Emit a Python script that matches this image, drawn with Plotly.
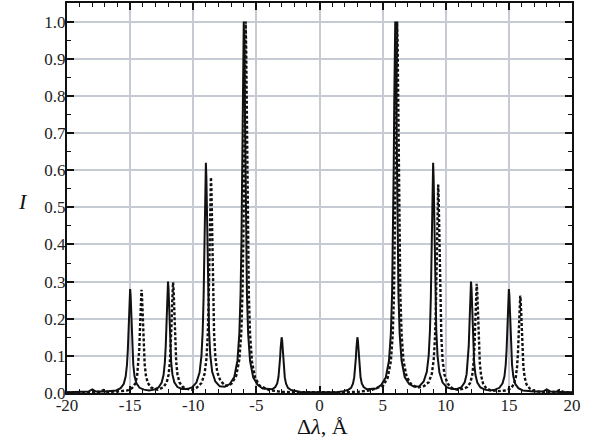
import plotly.graph_objects as go

# ---- data ----
solid_x = [-20, -19, -18.3, -18, -17.7, -17,
           -16.1, -15.75, -15.5, -15.35, -15.25, -15.18, -15.12, -15.08, -15.04, -15,
           -14.96, -14.92, -14.88, -14.82, -14.75, -14.65, -14.5, -14.25, -13.9, -13.5,
           -13.1, -12.75, -12.5, -12.35, -12.25, -12.18, -12.12, -12.08, -12.04, -12,
           -11.96, -11.92, -11.88, -11.82, -11.75, -11.65, -11.5, -11.25, -10.9, -10.5,
           -10.1, -9.75, -9.5, -9.35, -9.25, -9.18, -9.12, -9.08, -9.04, -9,
           -8.96, -8.92, -8.88, -8.82, -8.75, -8.65, -8.5, -8.25, -7.9, -7.5,
           -7.1, -6.75, -6.5, -6.35, -6.25, -6.18, -6.12, -6.08, -6.04, -6,
           -5.96, -5.92, -5.88, -5.82, -5.75, -5.65, -5.5, -5.25, -4.9, -4.5,
           -4.1, -3.75, -3.5, -3.35, -3.25, -3.18, -3.12, -3.08, -3.04, -3,
           -2.96, -2.92, -2.88, -2.82, -2.75, -2.65, -2.5, -2.25, -1.9, -1.5, -0.75, 0,
           0.75, 1.5, 1.9, 2.25, 2.5, 2.65, 2.75, 2.82, 2.88, 2.92, 2.96, 3,
           3.04, 3.08, 3.12, 3.18, 3.25, 3.35, 3.5, 3.75, 4.1, 4.5,
           4.9, 5.25, 5.5, 5.65, 5.75, 5.82, 5.88, 5.92, 5.96, 6,
           6.04, 6.08, 6.12, 6.18, 6.25, 6.35, 6.5, 6.75, 7.1, 7.5,
           7.9, 8.25, 8.5, 8.65, 8.75, 8.82, 8.88, 8.92, 8.96, 9,
           9.04, 9.08, 9.12, 9.18, 9.25, 9.35, 9.5, 9.75, 10.1, 10.5,
           10.9, 11.25, 11.5, 11.65, 11.75, 11.82, 11.88, 11.92, 11.96, 12,
           12.04, 12.08, 12.12, 12.18, 12.25, 12.35, 12.5, 12.75, 13.1, 13.5,
           13.9, 14.25, 14.5, 14.65, 14.75, 14.82, 14.88, 14.92, 14.96, 15,
           15.04, 15.08, 15.12, 15.18, 15.25, 15.35, 15.5, 15.75, 16.1,
           17, 17.7, 18, 18.3, 19, 20]
solid_y = [0.002, 0.003, 0.004, 0.010, 0.004, 0.004,
           0.007, 0.013, 0.025, 0.045, 0.076, 0.117, 0.173, 0.220, 0.262, 0.280,
           0.262, 0.220, 0.173, 0.117, 0.076, 0.045, 0.026, 0.014, 0.009, 0.0065,
           0.009, 0.015, 0.028, 0.049, 0.082, 0.126, 0.186, 0.237, 0.282, 0.300,
           0.282, 0.237, 0.186, 0.126, 0.083, 0.050, 0.029, 0.016, 0.011, 0.0105,
           0.015, 0.028, 0.055, 0.100, 0.168, 0.258, 0.382, 0.488, 0.580, 0.620,
           0.581, 0.489, 0.383, 0.259, 0.169, 0.101, 0.057, 0.031, 0.018, 0.017,
           0.024, 0.043, 0.087, 0.159, 0.269, 0.414, 0.614, 0.784, 0.934, 1.000,
           0.933, 0.783, 0.613, 0.413, 0.268, 0.158, 0.086, 0.042, 0.022, 0.012,
           0.010, 0.010, 0.016, 0.026, 0.043, 0.065, 0.095, 0.120, 0.142, 0.150,
           0.142, 0.119, 0.094, 0.064, 0.042, 0.025, 0.014, 0.008, 0.005, 0.003, 0.002, 0.002,
           0.002, 0.003, 0.005, 0.008, 0.014, 0.025, 0.042, 0.064, 0.094, 0.119, 0.142, 0.150,
           0.142, 0.120, 0.095, 0.065, 0.043, 0.026, 0.016, 0.010, 0.010, 0.012,
           0.022, 0.042, 0.086, 0.158, 0.268, 0.413, 0.613, 0.783, 0.933, 1.000,
           0.934, 0.784, 0.614, 0.414, 0.269, 0.159, 0.087, 0.043, 0.024, 0.017,
           0.018, 0.031, 0.057, 0.101, 0.169, 0.259, 0.383, 0.489, 0.581, 0.620,
           0.580, 0.488, 0.382, 0.258, 0.168, 0.100, 0.055, 0.028, 0.015, 0.0105,
           0.011, 0.016, 0.029, 0.050, 0.083, 0.126, 0.186, 0.237, 0.282, 0.300,
           0.282, 0.237, 0.186, 0.126, 0.082, 0.049, 0.028, 0.015, 0.009, 0.0065,
           0.009, 0.014, 0.026, 0.045, 0.076, 0.117, 0.173, 0.220, 0.262, 0.280,
           0.262, 0.220, 0.173, 0.117, 0.076, 0.045, 0.025, 0.013, 0.007,
           0.004, 0.004, 0.010, 0.004, 0.003, 0.002]

dotted_x = [-20, -18, -17.4, -17.1, -16.8, -16.0,
            -15.2, -14.85, -14.6, -14.45, -14.35, -14.28, -14.22, -14.18, -14.14, -14.1,
            -14.06, -14.02, -13.98, -13.92, -13.85, -13.75, -13.6, -13.35, -12.85,
            -12.7, -12.35, -12.1, -11.95, -11.85, -11.78, -11.72, -11.68, -11.64, -11.6,
            -11.56, -11.52, -11.48, -11.42, -11.35, -11.25, -11.1, -10.85, -10.5, -10.1,
            -9.7, -9.35, -9.1, -8.95, -8.85, -8.78, -8.72, -8.68, -8.64, -8.6,
            -8.56, -8.52, -8.48, -8.42, -8.35, -8.25, -8.1, -7.85, -7.5, -7.225,
            -6.95, -6.6, -6.35, -6.2, -6.1, -6.03, -5.97, -5.93, -5.89, -5.85,
            -5.81, -5.77, -5.73, -5.67, -5.6, -5.5, -5.35, -5.1, -4.75, -4.0,
            -3.0, -2.0, 0, 2.0, 3.0, 4.0,
            5.05, 5.4, 5.65, 5.8, 5.9, 5.97, 6.03, 6.07, 6.11, 6.15,
            6.19, 6.23, 6.27, 6.33, 6.4, 6.5, 6.65, 6.9, 7.25, 7.775,
            8.3, 8.65, 8.9, 9.05, 9.15, 9.22, 9.28, 9.32, 9.36, 9.4,
            9.44, 9.48, 9.52, 9.58, 9.65, 9.75, 9.9, 10.15, 10.5, 10.925,
            11.35, 11.7, 11.95, 12.1, 12.2, 12.27, 12.33, 12.37, 12.41, 12.45,
            12.49, 12.53, 12.57, 12.63, 12.7, 12.8, 12.95, 13.2, 13.55, 14.175,
            14.8, 15.15, 15.4, 15.55, 15.65, 15.72, 15.78, 15.82, 15.86, 15.9,
            15.94, 15.98, 16.02, 16.08, 16.15, 16.25, 16.4, 16.65, 17.0, 17.5,
            18.0, 18.7, 19.0, 19.3, 20]
dotted_y = [0.001, 0.002, 0.003, 0.008, 0.003, 0.004,
            0.007, 0.013, 0.025, 0.045, 0.076, 0.116, 0.172, 0.219, 0.260, 0.278,
            0.261, 0.220, 0.173, 0.118, 0.078, 0.047, 0.027, 0.015, 0.009,
            0.010, 0.016, 0.029, 0.050, 0.083, 0.126, 0.185, 0.236, 0.280, 0.298,
            0.280, 0.236, 0.185, 0.126, 0.083, 0.050, 0.029, 0.017, 0.011, 0.009,
            0.015, 0.027, 0.052, 0.094, 0.158, 0.242, 0.358, 0.457, 0.544, 0.581,
            0.545, 0.458, 0.359, 0.244, 0.160, 0.097, 0.056, 0.033, 0.021, 0.019,
            0.026, 0.046, 0.090, 0.161, 0.271, 0.415, 0.614, 0.783, 0.933, 1.000,
            0.932, 0.782, 0.612, 0.412, 0.267, 0.157, 0.085, 0.041, 0.020, 0.008,
            0.003, 0.002, 0.0015, 0.002, 0.003, 0.007,
            0.020, 0.041, 0.085, 0.157, 0.267, 0.412, 0.612, 0.782, 0.932, 1.000,
            0.933, 0.783, 0.614, 0.414, 0.269, 0.159, 0.087, 0.044, 0.024, 0.014,
            0.019, 0.029, 0.052, 0.091, 0.152, 0.233, 0.344, 0.440, 0.523, 0.561,
            0.523, 0.439, 0.343, 0.232, 0.151, 0.089, 0.049, 0.025, 0.013, 0.009,
            0.011, 0.016, 0.028, 0.049, 0.081, 0.123, 0.181, 0.231, 0.275, 0.294,
            0.275, 0.230, 0.180, 0.122, 0.080, 0.047, 0.026, 0.013, 0.007, 0.005,
            0.007, 0.012, 0.024, 0.043, 0.071, 0.109, 0.162, 0.206, 0.245, 0.262,
            0.245, 0.205, 0.161, 0.108, 0.071, 0.042, 0.023, 0.012, 0.006, 0.003,
            0.003, 0.003, 0.008, 0.003, 0.001]

x_tick_vals = [-20, -15, -10, -5, 0, 5, 10, 15, 20]
x_tick_labels = ["-20", "-15", "-10", "-5", "0", "5", "10", "15", "20"]
y_tick_vals = [0.0, 0.1, 0.2, 0.3, 0.4, 0.5, 0.6, 0.7, 0.8, 0.9, 1.0]
y_tick_labels = ["0.0", "0.1", "0.2", "0.3", "0.4", "0.5", "0.6", "0.7", "0.8", "0.9", "1.0"]

SERIF = "Liberation Serif"
GRID = "#c6cad2"

fig = go.Figure()
fig.add_trace(go.Scatter(x=solid_x, y=solid_y, mode="lines",
                         line=dict(color="#111111", width=2), showlegend=False))
fig.add_trace(go.Scatter(x=dotted_x, y=dotted_y, mode="lines",
                         line=dict(color="#111111", width=2.4, dash="3px,2px"),
                         showlegend=False))

axis_common = dict(showline=True, linecolor="#111111", linewidth=2, mirror="allticks",
                   ticks="inside", ticklen=7, tickwidth=1.5, tickcolor="#111111",
                   showgrid=True, gridcolor=GRID, gridwidth=1.5, zeroline=False,
                   tickfont=dict(family=SERIF, size=17, color="#222222"))

fig.update_xaxes(range=[-20, 20], tickmode="array", tickvals=x_tick_vals,
                 ticktext=x_tick_labels, ticklabelstandoff=-4,
                 minor=dict(dtick=1, ticks="inside", ticklen=4, tickcolor="#111111",
                            tickwidth=1.2, showgrid=False),
                 **axis_common)
fig.update_yaxes(range=[0, 1.05], tickmode="array", tickvals=y_tick_vals,
                 ticktext=y_tick_labels, ticklabelstandoff=-4,
                 minor=dict(dtick=0.05, tick0=0, ticks="inside", ticklen=4, tickcolor="#111111",
                            tickwidth=1.2, showgrid=False),
                 **axis_common)

fig.add_annotation(text="<i>I</i>", xref="paper", yref="paper", x=-0.088, y=0.49,
                   showarrow=False, font=dict(family=SERIF, size=22, color="#111111"),
                   xanchor="center", yanchor="middle")
fig.add_annotation(text="Δ<i>λ</i>, Å", xref="paper", yref="paper", x=0.505, y=-0.087,
                   showarrow=False, font=dict(family=SERIF, size=22, color="#111111"),
                   xanchor="center", yanchor="middle")

fig.update_layout(width=595, height=441, margin=dict(l=67, r=23, t=1, b=48),
                  font=dict(family=SERIF, color="#222222"),
                  plot_bgcolor="white", paper_bgcolor="white")

fig.write_html("out.html")
